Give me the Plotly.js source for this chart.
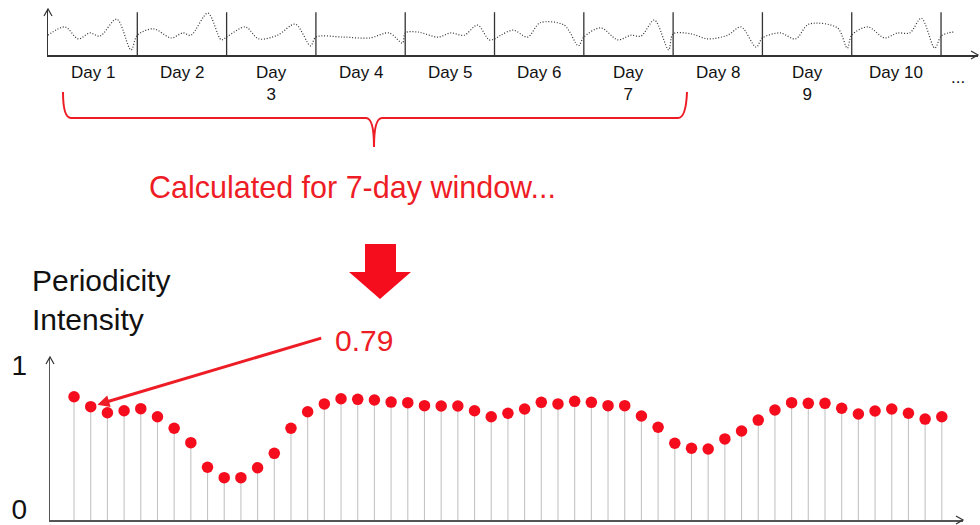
<!DOCTYPE html>
<html>
<head>
<meta charset="utf-8">
<script src="https://cdn.plot.ly/plotly-3.0.1.min.js"></script>
<style>html,body{margin:0;padding:0;background:#fff;}#chart{width:980px;height:525px;}</style>
</head>
<body>
<div id="chart"></div>
<script>
// ---- Data: raw signal per day, [fraction of day, level] ----
const day1  = [[0,0.43],[0.19,0.61],[0.34,0.35],[0.47,0.48],[0.58,0.41],[0.77,0.78],[0.93,0.11]];
const day2  = [[0,0.43],[0.18,0.57],[0.38,0.37],[0.51,0.48],[0.60,0.43],[0.79,0.91],[0.94,0.33]];
const day3  = [[0,0.39],[0.21,0.61],[0.36,0.35],[0.57,0.43],[0.77,0.67],[0.94,0.20]];
const day4  = [[0,0.39],[0.30,0.39],[0.60,0.37],[0.82,0.48],[0.97,0.26]];
const day5  = [[0,0.48],[0.14,0.50],[0.37,0.39],[0.51,0.48],[0.66,0.43],[0.81,0.65],[0.94,0.33]];
const day6  = [[0,0.35],[0.07,0.43],[0.21,0.54],[0.37,0.39],[0.51,0.70],[0.78,0.65],[0.94,0.20]];
const day7  = [[0,0.39],[0.19,0.59],[0.38,0.33],[0.53,0.43],[0.64,0.41],[0.79,0.76],[0.95,0.11]];
const day8  = [[0,0.46],[0.20,0.46],[0.39,0.35],[0.61,0.43],[0.76,0.61],[0.93,0.17]];
const day9  = [[0,0.37],[0.20,0.48],[0.37,0.35],[0.52,0.67],[0.84,0.59],[0.95,0.15]];
const day10 = [[0,0.43],[0.18,0.61],[0.37,0.37],[0.51,0.48],[0.65,0.48],[0.78,0.80],[0.93,0.15]];
const day11 = [[0,0.41],[0.08,0.48],[0.15,0.50]];
const days = [day1, day2, day3, day4, day5, day6, day7, day8, day9, day10, day11];
const dayLabels = ['Day 1','Day 2','Day<br>3','Day 4','Day 5','Day 6','Day<br>7','Day 8','Day<br>9','Day 10'];

// ---- Data: periodicity intensity per window step ----
const intensity = [0.856,0.787,0.745,0.759,0.773,0.717,0.637,0.537,0.366,0.294,
                   0.294,0.363,0.463,0.637,0.752,0.806,0.842,0.838,0.833,0.819,
                   0.815,0.794,0.792,0.792,0.759,0.717,0.741,0.771,0.817,0.806,
                   0.824,0.817,0.794,0.794,0.722,0.644,0.533,0.498,0.493,0.563,
                   0.618,0.694,0.764,0.815,0.810,0.810,0.776,0.736,0.757,0.771,
                   0.741,0.701,0.717];
const steps = intensity.map((v,i)=>i+1);
const yTickVals = [0,1];
const yTickText = ['0','1'];

// ---- helpers ----
const W = 980, H = 525;
const fx = p => p / W;
const fy = p => 1 - p / H;
const pt = (x,y) => fx(x).toFixed(5) + ',' + fy(y).toFixed(5);
const FONT = 'Liberation Sans, Arial, Helvetica, sans-serif';
const RED = '#ee1c25';

// signal series
const sx = [], sy = [];
days.forEach((d, i) => d.forEach(p => { sx.push(i + p[0]); sy.push(p[1]); }));

// stems
const stX = [], stY = [];
steps.forEach((s, i) => { stX.push(s, s, null); stY.push(0, intensity[i], null); });

const traces = [
  {x: sx, y: sy, xaxis:'x', yaxis:'y', mode:'lines', type:'scatter',
   line:{color:'#333', width:1.2, dash:'1px,1.8px', shape:'spline', smoothing:0.9}, hoverinfo:'skip'},
  {x: stX, y: stY, xaxis:'x2', yaxis:'y2', mode:'lines', type:'scatter',
   line:{color:'#c4c4c4', width:1.1}, hoverinfo:'skip'},
  {x: steps, y: intensity, xaxis:'x2', yaxis:'y2', mode:'markers', type:'scatter',
   marker:{color:'#f50d1e', size:11.5}, hoverinfo:'skip'}
];

const shapes = [];
// day separators
dayLabels.forEach((l, i) => shapes.push({type:'line', xref:'x', yref:'y', x0:i+1, x1:i+1, y0:0, y1:0.93,
  line:{color:'#333', width:1.3}}));
// brace
shapes.push({type:'path', xref:'paper', yref:'paper',
  path:'M' + pt(63,92) + ' Q' + pt(63,118) + ' ' + pt(71,118) + ' L' + pt(366,118) +
       ' Q' + pt(374,118) + ' ' + pt(374,147) + ' Q' + pt(374,118) + ' ' + pt(382,118) +
       ' L' + pt(678,118) + ' Q' + pt(686,118) + ' ' + pt(687,92),
  line:{color:RED, width:2}});
// block down arrow
shapes.push({type:'path', xref:'paper', yref:'paper',
  path:'M' + pt(365,244) + ' L' + pt(396,244) + ' L' + pt(396,272) + ' L' + pt(411,272) +
       ' L' + pt(380,299) + ' L' + pt(349,272) + ' L' + pt(365,272) + ' Z',
  fillcolor:'#f50d1e', line:{width:0}});
// axis arrow chevrons
const upHead = (x, y) => ({type:'path', xref:'paper', yref:'paper',
  path:'M' + pt(x-4, y+7) + ' L' + pt(x, y) + ' L' + pt(x+4, y+7), line:{color:'#333', width:1.2}});
const rightHead = (x, y) => ({type:'path', xref:'paper', yref:'paper',
  path:'M' + pt(x-7, y-4) + ' L' + pt(x, y) + ' L' + pt(x-7, y+4), line:{color:'#333', width:1.2}});
shapes.push(upHead(48, 9), rightHead(978, 55), upHead(50, 357), rightHead(963, 520));

const annotations = [];
dayLabels.forEach((l, i) => annotations.push({xref:'x', yref:'paper', x:i+0.5, y:fy(61),
  yanchor:'top', xanchor:'center', text:l, showarrow:false,
  font:{family:FONT, size:17, color:'#111'}}));
annotations.push({xref:'paper', yref:'paper', x:fx(967), y:fy(66), text:'...', showarrow:false,
  font:{family:FONT, size:17, color:'#111'}});
annotations.push({xref:'paper', yref:'paper', x:fx(352), y:fy(187), text:'Calculated for 7-day window...',
  showarrow:false, font:{family:FONT, size:30.5, color:RED}});
annotations.push({xref:'paper', yref:'paper', x:fx(30), y:fy(262), xanchor:'left', yanchor:'top', align:'left',
  text:'Periodicity<br>Intensity', showarrow:false, font:{family:FONT, size:30, color:'#111'}});
annotations.push({xref:'paper', yref:'paper', x:fx(333), y:fy(340), xanchor:'left',
  text:'0.79', showarrow:false, font:{family:FONT, size:30, color:RED}});
// pointer arrow to second value
annotations.push({xref:'x2', yref:'y2', x:steps[1], y:intensity[1], text:'', showarrow:true,
  axref:'pixel', ayref:'pixel', ax:232, ay:-69, arrowhead:2, arrowsize:0.8, arrowwidth:3,
  arrowcolor:RED, standoff:7});

const layout = {
  width: W, height: H, margin:{l:0, r:0, t:0, b:0},
  paper_bgcolor:'#fff', plot_bgcolor:'rgba(0,0,0,0)', showlegend:false,
  font:{family:FONT},
  xaxis:{domain:[fx(48), fx(978)], range:[0, 10.414], anchor:'y', showline:true, linecolor:'#333',
    linewidth:1.5, showgrid:false, zeroline:false, showticklabels:false, ticks:''},
  yaxis:{domain:[fy(55), fy(9)], range:[0, 1], anchor:'x', showline:true, linecolor:'#333',
    linewidth:1.3, showgrid:false, zeroline:false, showticklabels:false, ticks:''},
  xaxis2:{domain:[fx(50), fx(963)], range:[-0.44, 54.27], anchor:'y2', showline:true, linecolor:'#555',
    linewidth:1.5, showgrid:false, zeroline:false, showticklabels:false, ticks:''},
  yaxis2:{domain:[fy(520), fy(357)], range:[0, 1.132], anchor:'x2', showline:true, linecolor:'#555',
    linewidth:1.2, showgrid:false, zeroline:false, ticks:'', tickvals:yTickVals, ticktext:yTickText,
    tickfont:{family:FONT, size:28, color:'#111'}, ticklabelstandoff:16, ticklabelshift:-11,
    ticklabeloverflow:'allow'},
  shapes: shapes, annotations: annotations, hovermode:false
};

Plotly.newPlot('chart', traces, layout, {staticPlot:true, displayModeBar:false});
</script>
</body>
</html>
